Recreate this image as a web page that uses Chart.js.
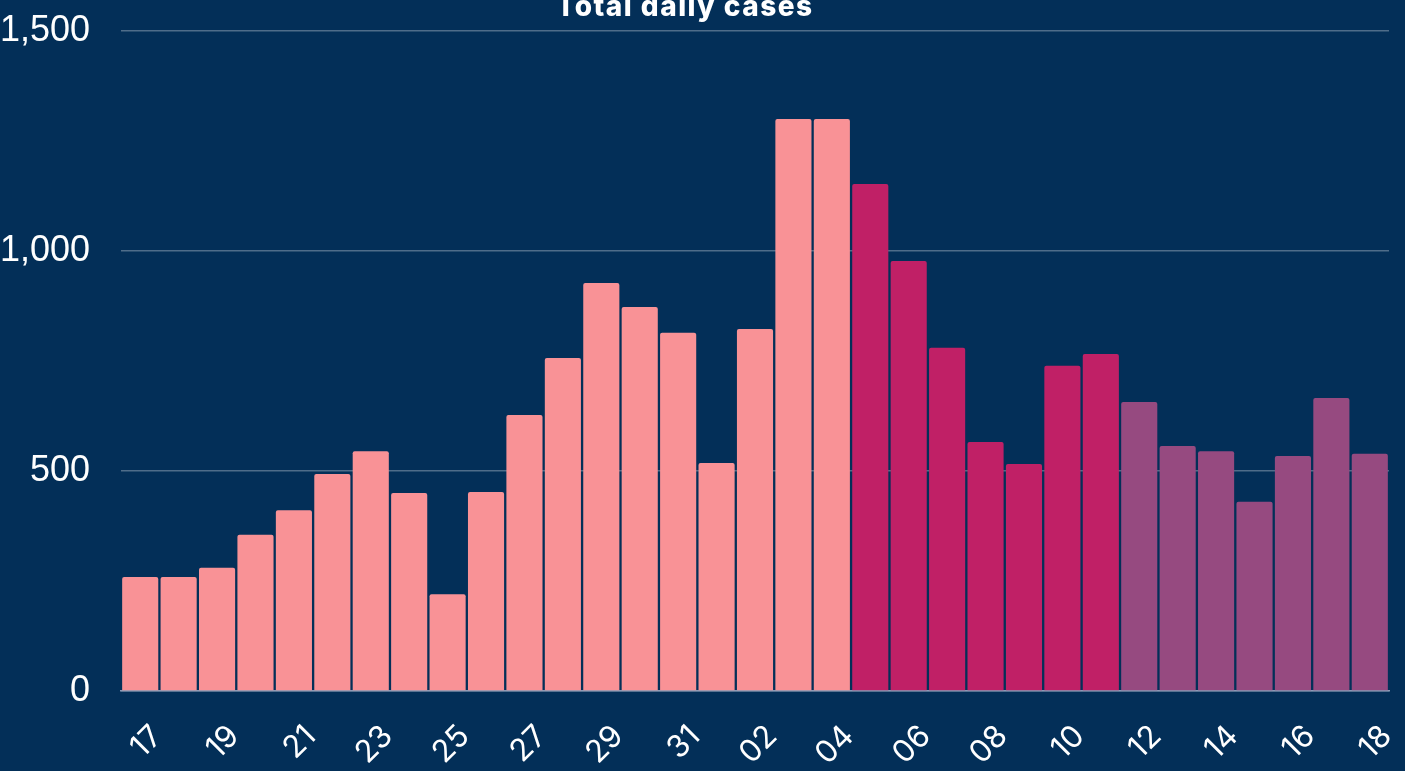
<!DOCTYPE html>
<html>
<head>
<meta charset="utf-8">
<script src="https://cdn.jsdelivr.net/npm/chart.js@4"></script>
<style>
html,body{margin:0;padding:0;background:#032f58;}
#wrap{width:1405px;height:771px;position:relative;}
</style>
</head>
<body>
<div id="wrap"><canvas id="c" width="1405" height="771"></canvas></div>
<script>
const categories = ["17","18","19","20","21","22","23","24","25","26","27","28","29","30","31","01","02","03","04","05","06","07","08","09","10","11","12","13","14","15","16","17","18"];
const dailyCases = [259,259,280,355,411,493,545,450,220,452,627,757,927,873,814,518,823,1300,1300,1152,977,780,566,516,739,766,657,557,545,430,534,666,539];
const phaseColors = ["#f99296","#c02066","#964a80"];
const phaseOfBar = [0,0,0,0,0,0,0,0,0,0,0,0,0,0,0,0,0,0,0,1,1,1,1,1,1,1,2,2,2,2,2,2,2];
const yTicks = [0,500,1000,1500];
const chartTitle = 'Total daily cases';

const titlePlugin = {
  id: 'fixedTitle',
  afterDraw(chart) {
    const ctx = chart.ctx;
    ctx.save();
    ctx.fillStyle = '#ffffff';
    ctx.font = '800 28px Inter';
    ctx.letterSpacing = '1.5px';
    ctx.textAlign = 'center';
    ctx.textBaseline = 'alphabetic';
    ctx.fillText(chartTitle, 685, 16);
    ctx.restore();
  }
};

new Chart(document.getElementById('c'), {
  type: 'bar',
  data: {
    labels: categories,
    datasets: [{
      label: chartTitle,
      data: dailyCases,
      backgroundColor: phaseOfBar.map(p => phaseColors[p]),
      borderRadius: 2,
      borderSkipped: 'bottom',
      barPercentage: 0.94,
      categoryPercentage: 1.0
    }]
  },
  plugins: [titlePlugin],
  options: {
    responsive: false,
    animation: false,
    layout: {padding: {left: 0, right: 16, top: 31, bottom: 0}},
    plugins: {
      legend: {display: false},
      tooltip: {enabled: false},
      title: {display: false}
    },
    scales: {
      x: {
        grid: {display: false, drawTicks: false},
        border: {display: true, color: '#8a9ab5', width: 1.5},
        afterFit: s => { s.height = 80; s.paddingLeft = 0; s.paddingRight = 0; },
        ticks: {
          color: '#ffffff',
          font: {family: 'Inter', size: 31},
          maxRotation: 45, minRotation: 45,
          autoSkip: false,
          padding: 27,
          labelOffset: 17,
          callback: function(v, i){ return i % 2 === 0 ? categories[i] : ''; }
        }
      },
      y: {
        min: 0, max: 1500,
        afterBuildTicks: axis => { axis.ticks = yTicks.map(v => ({value: v})); },
        afterFit: s => { s.width = 121; s.paddingTop = 0; s.paddingBottom = 0; },
        grid: {color: 'rgba(255,255,255,0.3)', lineWidth: 1.5, drawTicks: false},
        border: {display: false},
        ticks: {
          color: '#ffffff',
          font: {family: 'Liberation Sans', size: 36},
          padding: 31,
          callback: v => v.toLocaleString('en-US')
        }
      }
    }
  }
});
</script>
</body>
</html>
